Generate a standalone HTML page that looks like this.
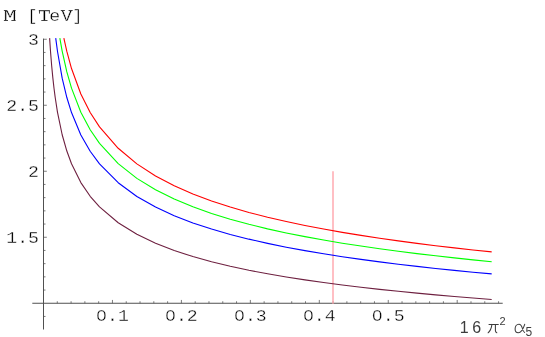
<!DOCTYPE html>
<html><head><meta charset="utf-8"><title>plot</title>
<style>
html,body{margin:0;padding:0;background:#fff;}
#wrap{will-change:transform;width:545px;height:337px;overflow:hidden}
svg{display:block}
text{font-family:"Liberation Mono",monospace;}
.s{font-family:"Liberation Sans",sans-serif;}
</style></head><body><div id="wrap">
<svg width="545" height="337" viewBox="0 0 545 337">
<line x1="32.3" y1="303.25" x2="502.7" y2="303.25" stroke="#505050" stroke-width="1.0"/>
<line x1="43.5" y1="38.6" x2="43.5" y2="329.5" stroke="#505050" stroke-width="1.0"/>
<line x1="57.29" y1="303.25" x2="57.29" y2="301.25" stroke="#505050" stroke-width="0.75"/>
<line x1="71.08" y1="303.25" x2="71.08" y2="301.25" stroke="#505050" stroke-width="0.75"/>
<line x1="84.87" y1="303.25" x2="84.87" y2="301.25" stroke="#505050" stroke-width="0.75"/>
<line x1="98.66" y1="303.25" x2="98.66" y2="301.25" stroke="#505050" stroke-width="0.75"/>
<line x1="112.45" y1="303.25" x2="112.45" y2="299.95" stroke="#505050" stroke-width="0.75"/>
<line x1="126.24" y1="303.25" x2="126.24" y2="301.25" stroke="#505050" stroke-width="0.75"/>
<line x1="140.03" y1="303.25" x2="140.03" y2="301.25" stroke="#505050" stroke-width="0.75"/>
<line x1="153.82" y1="303.25" x2="153.82" y2="301.25" stroke="#505050" stroke-width="0.75"/>
<line x1="167.61" y1="303.25" x2="167.61" y2="301.25" stroke="#505050" stroke-width="0.75"/>
<line x1="181.40" y1="303.25" x2="181.40" y2="299.95" stroke="#505050" stroke-width="0.75"/>
<line x1="195.19" y1="303.25" x2="195.19" y2="301.25" stroke="#505050" stroke-width="0.75"/>
<line x1="208.98" y1="303.25" x2="208.98" y2="301.25" stroke="#505050" stroke-width="0.75"/>
<line x1="222.77" y1="303.25" x2="222.77" y2="301.25" stroke="#505050" stroke-width="0.75"/>
<line x1="236.56" y1="303.25" x2="236.56" y2="301.25" stroke="#505050" stroke-width="0.75"/>
<line x1="250.35" y1="303.25" x2="250.35" y2="299.95" stroke="#505050" stroke-width="0.75"/>
<line x1="264.14" y1="303.25" x2="264.14" y2="301.25" stroke="#505050" stroke-width="0.75"/>
<line x1="277.93" y1="303.25" x2="277.93" y2="301.25" stroke="#505050" stroke-width="0.75"/>
<line x1="291.72" y1="303.25" x2="291.72" y2="301.25" stroke="#505050" stroke-width="0.75"/>
<line x1="305.51" y1="303.25" x2="305.51" y2="301.25" stroke="#505050" stroke-width="0.75"/>
<line x1="319.30" y1="303.25" x2="319.30" y2="299.95" stroke="#505050" stroke-width="0.75"/>
<line x1="333.09" y1="303.25" x2="333.09" y2="301.25" stroke="#505050" stroke-width="0.75"/>
<line x1="346.88" y1="303.25" x2="346.88" y2="301.25" stroke="#505050" stroke-width="0.75"/>
<line x1="360.67" y1="303.25" x2="360.67" y2="301.25" stroke="#505050" stroke-width="0.75"/>
<line x1="374.46" y1="303.25" x2="374.46" y2="301.25" stroke="#505050" stroke-width="0.75"/>
<line x1="388.25" y1="303.25" x2="388.25" y2="299.95" stroke="#505050" stroke-width="0.75"/>
<line x1="402.04" y1="303.25" x2="402.04" y2="301.25" stroke="#505050" stroke-width="0.75"/>
<line x1="415.83" y1="303.25" x2="415.83" y2="301.25" stroke="#505050" stroke-width="0.75"/>
<line x1="429.62" y1="303.25" x2="429.62" y2="301.25" stroke="#505050" stroke-width="0.75"/>
<line x1="443.41" y1="303.25" x2="443.41" y2="301.25" stroke="#505050" stroke-width="0.75"/>
<line x1="457.20" y1="303.25" x2="457.20" y2="299.95" stroke="#505050" stroke-width="0.75"/>
<line x1="470.99" y1="303.25" x2="470.99" y2="301.25" stroke="#505050" stroke-width="0.75"/>
<line x1="484.78" y1="303.25" x2="484.78" y2="301.25" stroke="#505050" stroke-width="0.75"/>
<line x1="498.57" y1="303.25" x2="498.57" y2="301.25" stroke="#505050" stroke-width="0.75"/>
<line x1="43.5" y1="316.45" x2="45.5" y2="316.45" stroke="#505050" stroke-width="0.75"/>
<line x1="43.5" y1="290.05" x2="45.5" y2="290.05" stroke="#505050" stroke-width="0.75"/>
<line x1="43.5" y1="276.85" x2="45.5" y2="276.85" stroke="#505050" stroke-width="0.75"/>
<line x1="43.5" y1="263.65" x2="45.5" y2="263.65" stroke="#505050" stroke-width="0.75"/>
<line x1="43.5" y1="250.45" x2="45.5" y2="250.45" stroke="#505050" stroke-width="0.75"/>
<line x1="43.5" y1="237.25" x2="46.8" y2="237.25" stroke="#505050" stroke-width="0.75"/>
<line x1="43.5" y1="224.05" x2="45.5" y2="224.05" stroke="#505050" stroke-width="0.75"/>
<line x1="43.5" y1="210.85" x2="45.5" y2="210.85" stroke="#505050" stroke-width="0.75"/>
<line x1="43.5" y1="197.65" x2="45.5" y2="197.65" stroke="#505050" stroke-width="0.75"/>
<line x1="43.5" y1="184.45" x2="45.5" y2="184.45" stroke="#505050" stroke-width="0.75"/>
<line x1="43.5" y1="171.25" x2="46.8" y2="171.25" stroke="#505050" stroke-width="0.75"/>
<line x1="43.5" y1="158.05" x2="45.5" y2="158.05" stroke="#505050" stroke-width="0.75"/>
<line x1="43.5" y1="144.85" x2="45.5" y2="144.85" stroke="#505050" stroke-width="0.75"/>
<line x1="43.5" y1="131.65" x2="45.5" y2="131.65" stroke="#505050" stroke-width="0.75"/>
<line x1="43.5" y1="118.45" x2="45.5" y2="118.45" stroke="#505050" stroke-width="0.75"/>
<line x1="43.5" y1="105.25" x2="46.8" y2="105.25" stroke="#505050" stroke-width="0.75"/>
<line x1="43.5" y1="92.05" x2="45.5" y2="92.05" stroke="#505050" stroke-width="0.75"/>
<line x1="43.5" y1="78.85" x2="45.5" y2="78.85" stroke="#505050" stroke-width="0.75"/>
<line x1="43.5" y1="65.65" x2="45.5" y2="65.65" stroke="#505050" stroke-width="0.75"/>
<line x1="43.5" y1="52.45" x2="45.5" y2="52.45" stroke="#505050" stroke-width="0.75"/>
<line x1="43.5" y1="39.25" x2="46.8" y2="39.25" stroke="#505050" stroke-width="0.75"/>
<line x1="333" y1="171.2" x2="333" y2="303.8" stroke="#ffaab0" stroke-width="1.5"/>
<polyline points="63.86,38.10 66.84,51.45 71.51,68.55 80.85,94.00 90.18,112.51 99.52,126.89 118.20,148.29 136.87,163.86 155.54,175.95 174.22,185.76 192.89,193.95 211.57,200.95 230.24,207.04 248.91,212.41 267.59,217.21 286.26,221.53 304.94,225.45 323.61,229.04 342.28,232.34 360.96,235.39 379.63,238.23 398.30,240.87 416.98,243.35 435.65,245.68 454.33,247.87 473.00,249.94 491.68,251.90" fill="none" stroke="#ff0000" stroke-width="1.1" stroke-linejoin="round"/>
<polyline points="59.85,38.10 62.17,51.10 66.84,71.94 71.51,88.13 80.85,112.22 90.18,129.75 99.52,143.36 118.20,163.61 136.87,178.35 155.54,189.80 174.22,199.08 192.89,206.83 211.57,213.46 230.24,219.23 248.91,224.31 267.59,228.85 286.26,232.94 304.94,236.65 323.61,240.05 342.28,243.17 360.96,246.06 379.63,248.75 398.30,251.25 416.98,253.60 435.65,255.80 454.33,257.87 473.00,259.83 491.68,261.69" fill="none" stroke="#00ff00" stroke-width="1.1" stroke-linejoin="round"/>
<polyline points="55.71,38.10 57.51,51.51 62.17,78.14 66.84,97.52 71.51,112.56 80.85,134.96 90.18,151.25 99.52,163.90 118.20,182.73 136.87,196.44 155.54,207.08 174.22,215.70 192.89,222.91 211.57,229.07 230.24,234.43 248.91,239.16 267.59,243.38 286.26,247.18 304.94,250.63 323.61,253.79 342.28,256.69 360.96,259.38 379.63,261.88 398.30,264.20 416.98,266.38 435.65,268.43 454.33,270.36 473.00,272.18 491.68,273.91" fill="none" stroke="#0000ff" stroke-width="1.1" stroke-linejoin="round"/>
<polyline points="49.62,38.10 50.50,51.25 51.67,65.77 52.84,77.90 54.00,88.27 55.17,97.29 57.51,112.35 62.17,134.76 66.84,151.06 71.51,163.72 80.85,182.57 90.18,196.28 99.52,206.92 118.20,222.77 136.87,234.30 155.54,243.25 174.22,250.51 192.89,256.58 211.57,261.76 230.24,266.27 248.91,270.25 267.59,273.80 286.26,277.00 304.94,279.90 323.61,282.56 342.28,285.00 360.96,287.26 379.63,289.36 398.30,291.32 416.98,293.16 435.65,294.88 454.33,296.50 473.00,298.03 491.68,299.49" fill="none" stroke="#6e2040" stroke-width="1.1" stroke-linejoin="round"/>
<text transform="translate(112.45,320.60) scale(1,0.93)" font-size="18.2" text-anchor="middle" fill="#000" stroke="#fff" stroke-width="0.35" paint-order="fill stroke" xml:space="preserve">0.1</text>
<rect x="99.63" y="313.2" width="3.8" height="3.7" fill="#fff"/>
<text transform="translate(181.40,320.60) scale(1,0.93)" font-size="18.2" text-anchor="middle" fill="#000" stroke="#fff" stroke-width="0.35" paint-order="fill stroke" xml:space="preserve">0.2</text>
<rect x="168.58" y="313.2" width="3.8" height="3.7" fill="#fff"/>
<text transform="translate(250.35,320.60) scale(1,0.93)" font-size="18.2" text-anchor="middle" fill="#000" stroke="#fff" stroke-width="0.35" paint-order="fill stroke" xml:space="preserve">0.3</text>
<rect x="237.53" y="313.2" width="3.8" height="3.7" fill="#fff"/>
<text transform="translate(319.30,320.60) scale(1,0.93)" font-size="18.2" text-anchor="middle" fill="#000" stroke="#fff" stroke-width="0.35" paint-order="fill stroke" xml:space="preserve">0.4</text>
<rect x="306.48" y="313.2" width="3.8" height="3.7" fill="#fff"/>
<text transform="translate(388.25,320.60) scale(1,0.93)" font-size="18.2" text-anchor="middle" fill="#000" stroke="#fff" stroke-width="0.35" paint-order="fill stroke" xml:space="preserve">0.5</text>
<rect x="375.43" y="313.2" width="3.8" height="3.7" fill="#fff"/>
<text transform="translate(39.00,45.25) scale(1,0.93)" font-size="18.2" text-anchor="end" fill="#000" stroke="#fff" stroke-width="0.35" paint-order="fill stroke" xml:space="preserve">3</text>
<text transform="translate(39.00,111.25) scale(1,0.93)" font-size="18.2" text-anchor="end" fill="#000" stroke="#fff" stroke-width="0.35" paint-order="fill stroke" xml:space="preserve">2.5</text>
<text transform="translate(39.00,177.25) scale(1,0.93)" font-size="18.2" text-anchor="end" fill="#000" stroke="#fff" stroke-width="0.35" paint-order="fill stroke" xml:space="preserve">2</text>
<text transform="translate(39.00,243.25) scale(1,0.93)" font-size="18.2" text-anchor="end" fill="#000" stroke="#fff" stroke-width="0.35" paint-order="fill stroke" xml:space="preserve">1.5</text>
<text transform="translate(9.95,21.00) scale(1.2,0.86)" font-size="18.2" text-anchor="middle" fill="#000" stroke="#fff" stroke-width="0.35" paint-order="fill stroke" xml:space="preserve">M</text>
<text transform="translate(32.40,21.00) scale(0.9,0.86)" font-size="18.2" text-anchor="middle" fill="#000" stroke="#fff" stroke-width="0.35" paint-order="fill stroke" xml:space="preserve">[</text>
<text transform="translate(44.40,21.00) scale(1.15,0.86)" font-size="18.2" text-anchor="middle" fill="#000" stroke="#fff" stroke-width="0.35" paint-order="fill stroke" xml:space="preserve">T</text>
<text transform="translate(54.80,21.00) scale(1.0,0.86)" font-size="18.2" text-anchor="middle" fill="#000" stroke="#fff" stroke-width="0.35" paint-order="fill stroke" xml:space="preserve">e</text>
<text transform="translate(66.80,21.00) scale(1.0,0.86)" font-size="18.2" text-anchor="middle" fill="#000" stroke="#fff" stroke-width="0.35" paint-order="fill stroke" xml:space="preserve">V</text>
<text transform="translate(77.30,21.00) scale(0.9,0.86)" font-size="18.2" text-anchor="middle" fill="#000" stroke="#fff" stroke-width="0.35" paint-order="fill stroke" xml:space="preserve">]</text>
<line x1="3.9" y1="10.5" x2="6.2" y2="10.5" stroke="#333" stroke-width="0.9"/>
<line x1="13.3" y1="10.5" x2="15.6" y2="10.5" stroke="#333" stroke-width="0.9"/>
<line x1="3.9" y1="20.5" x2="8.0" y2="20.5" stroke="#333" stroke-width="0.9"/>
<line x1="11.4" y1="20.5" x2="15.6" y2="20.5" stroke="#333" stroke-width="0.9"/>
<line x1="41.3" y1="20.5" x2="47.5" y2="20.5" stroke="#333" stroke-width="0.9"/>
<line x1="39.5" y1="10.2" x2="39.5" y2="13.6" stroke="#333" stroke-width="0.9"/>
<line x1="49.4" y1="10.2" x2="49.4" y2="13.6" stroke="#333" stroke-width="0.9"/>
<line x1="60.8" y1="10.5" x2="64.9" y2="10.5" stroke="#333" stroke-width="0.9"/>
<line x1="68.6" y1="10.5" x2="72.7" y2="10.5" stroke="#333" stroke-width="0.9"/>
<text class="s" x="459.8" y="332.6" font-size="16" fill="#3c3c3c">1</text>
<text class="s" x="472.2" y="332.6" font-size="16" fill="#3c3c3c">6</text>
<path d="M489 324.4H498.3M491.9 324.4C491.6 327.5 491 330.2 488.1 332.8M495.4 324.4V330.6C495.4 331.8 495.9 332.5 496.8 332.8" fill="none" stroke="#3c3c3c" stroke-width="1.05" stroke-linecap="round"/>
<text class="s" x="499.6" y="325.4" font-size="11" fill="#3c3c3c">2</text>
<path d="M524.7 324.3C523.5 328 521.5 332.7 518.3 332.7C516.2 332.7 515.1 331 515.1 329C515.1 326.5 516.6 324.2 518.9 324.2C521 324.2 521.8 326 522.4 328.5C522.9 330.5 523.3 332 524.6 332.4" fill="none" stroke="#3c3c3c" stroke-width="1.05" stroke-linecap="round"/>
<text class="s" x="525.4" y="335.5" font-size="12" fill="#3c3c3c">5</text>
</svg></div></body></html>
